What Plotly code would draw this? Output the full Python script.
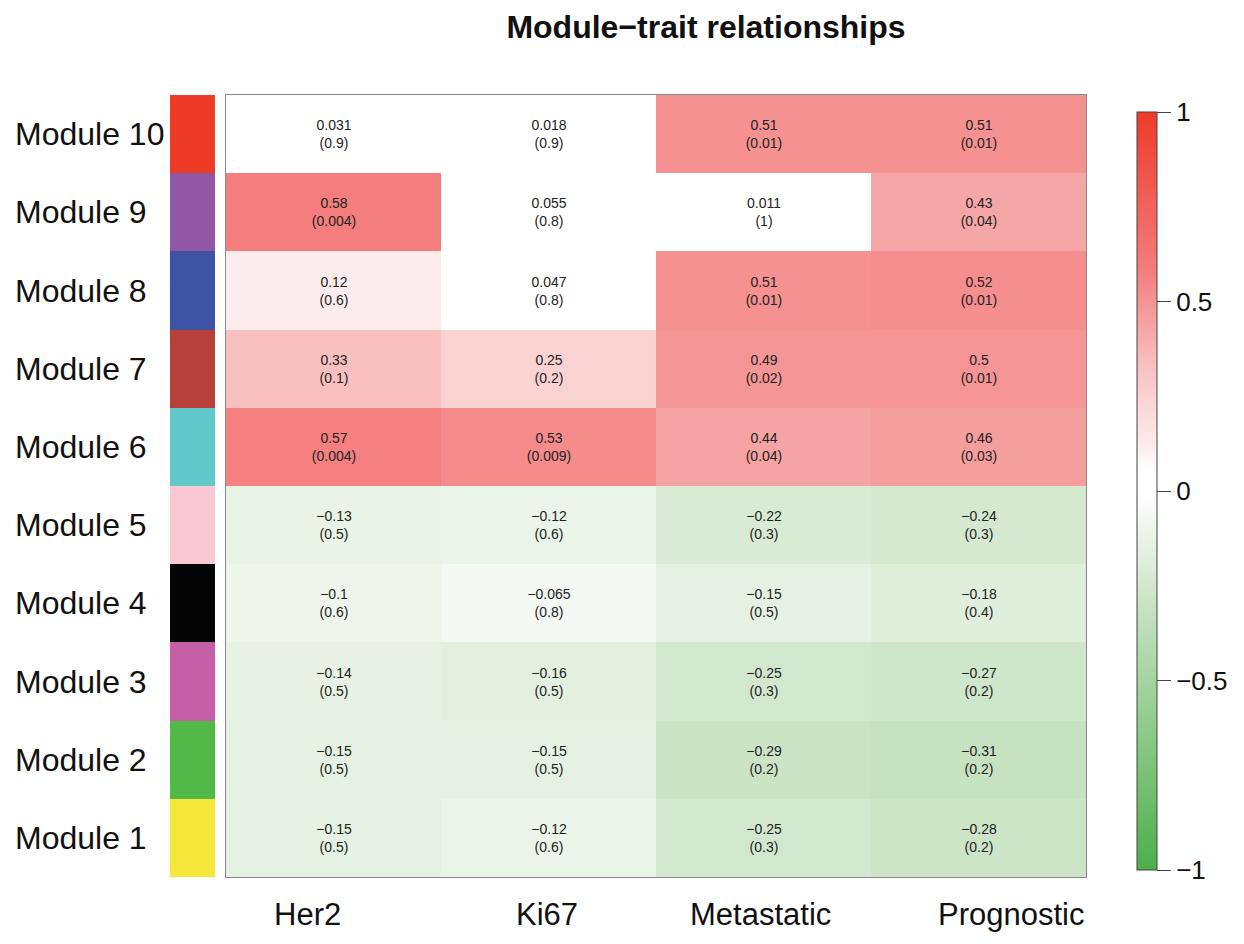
import plotly.graph_objects as go

traits = ["Her2", "Ki67", "Metastatic", "Prognostic"]
modules = ["Module 1", "Module 2", "Module 3", "Module 4", "Module 5",
           "Module 6", "Module 7", "Module 8", "Module 9", "Module 10"]
module_colors = ["#F5E83A", "#52B848", "#C45FA5", "#050505", "#F9C8D4",
                 "#62C8C9", "#B7403A", "#3E53A3", "#8F57A4", "#EE3B26"]

cor = [
    [-0.15, -0.12, -0.25, -0.28],
    [-0.15, -0.15, -0.29, -0.31],
    [-0.14, -0.16, -0.25, -0.27],
    [-0.1, -0.065, -0.15, -0.18],
    [-0.13, -0.12, -0.22, -0.24],
    [0.57, 0.53, 0.44, 0.46],
    [0.33, 0.25, 0.49, 0.5],
    [0.12, 0.047, 0.51, 0.52],
    [0.58, 0.055, 0.011, 0.43],
    [0.031, 0.018, 0.51, 0.51],
]
pval = [
    [0.5, 0.6, 0.3, 0.2],
    [0.5, 0.5, 0.2, 0.2],
    [0.5, 0.5, 0.3, 0.2],
    [0.6, 0.8, 0.5, 0.4],
    [0.5, 0.6, 0.3, 0.3],
    [0.004, 0.009, 0.04, 0.03],
    [0.1, 0.2, 0.02, 0.01],
    [0.6, 0.8, 0.01, 0.01],
    [0.004, 0.8, 1, 0.04],
    [0.9, 0.9, 0.01, 0.01],
]
cbar_ticks = [-1, -0.5, 0, 0.5, 1]
cbar_ticktext = ["\u22121", "\u22120.5", "0", "0.5", "1"]

# label offsets (pixels) relative to column centres, as in the reference
trait_label_shift = [-26, -2, -3, 32]


def fmt(v):
    return f"{v:g}".replace("-", "\u2212")


text = [[f"{fmt(c)}<br>({fmt(p)})" for c, p in zip(rc, rp)] for rc, rp in zip(cor, pval)]

colorscale = [
    [0.0, "#4DAF4A"],
    [0.35, "#C8E3C3"],
    [0.40, "#DCEDD8"],
    [0.47, "#F5F9F4"],
    [0.49, "#FFFFFF"],
    [0.53, "#FFFFFF"],
    [0.56, "#FDECEC"],
    [0.625, "#FAD2D2"],
    [0.665, "#F9C0C0"],
    [0.72, "#F5A3A3"],
    [0.755, "#F59191"],
    [0.79, "#F47D7D"],
    [1.0, "#EE3B2A"],
]

# page has an 8px body margin
OFF = 8
W, H = 1244 - 2 * OFF, 944 - 2 * OFF


def px(x):
    return (x - OFF) / W


def py(y):
    return 1 - (y - OFF) / H


FONT = "Liberation Sans, Arial"

fig = go.Figure()

fig.add_trace(go.Bar(
    x=[1] * len(modules), y=modules, orientation="h",
    marker=dict(color=module_colors, line=dict(width=0)),
    width=1, xaxis="x", yaxis="y", showlegend=False, hoverinfo="y",
))

fig.add_trace(go.Heatmap(
    z=cor, x=traits, y=modules, text=text, texttemplate="%{text}",
    textfont=dict(family=FONT, size=14, color="#222222"),
    colorscale=colorscale, zmin=-1, zmax=1, xaxis="x2", yaxis="y2",
    colorbar=dict(
        x=px(1137), xanchor="left", thickness=20, xpad=0, ypad=0,
        y=py(112), yanchor="top", len=(870 - 112) / H, lenmode="fraction",
        outlinewidth=1, outlinecolor="#444444",
        tickvals=cbar_ticks, ticktext=cbar_ticktext,
        ticks="outside", ticklen=14, tickcolor="#444444",
        tickfont=dict(family=FONT, size=26, color="#111111"),
    ),
))

annotations = []
for name in modules:
    annotations.append(dict(
        text=name, xref="paper", x=px(13), xanchor="left",
        yref="y", y=name, yanchor="middle", showarrow=False,
        font=dict(family=FONT, size=32, color="#111111"),
    ))
for name, sh in zip(traits, trait_label_shift):
    annotations.append(dict(
        text=name, xref="x2", x=name, xanchor="center", xshift=sh,
        yref="paper", y=py(914), yanchor="middle", showarrow=False,
        font=dict(family=FONT, size=31, color="#111111"),
    ))

fig.update_layout(
    width=W, height=H,
    margin=dict(l=0, r=0, t=0, b=0),
    paper_bgcolor="white", plot_bgcolor="white",
    bargap=0,
    title=dict(text="<b>Module\u2212trait relationships</b>", x=px(706), xanchor="center",
               y=py(27), yanchor="middle",
               font=dict(family=FONT, size=32, color="#111111")),
    annotations=annotations,
    xaxis=dict(domain=[px(170), px(215)], range=[0, 1], showticklabels=False, showgrid=False,
               zeroline=False, fixedrange=True),
    yaxis=dict(domain=[py(877), py(95)], showgrid=False, zeroline=False,
               categoryorder="array", categoryarray=modules, showticklabels=False),
    xaxis2=dict(domain=[px(226), px(1086)], anchor="y2", showgrid=False, zeroline=False,
                showticklabels=False,
                showline=True, mirror=True, linecolor="#888888", linewidth=1),
    yaxis2=dict(domain=[py(877), py(95)], anchor="x2", showgrid=False, zeroline=False,
                showticklabels=False, categoryorder="array", categoryarray=modules,
                showline=True, mirror=True, linecolor="#888888", linewidth=1),
)

fig.write_html("out.html")
